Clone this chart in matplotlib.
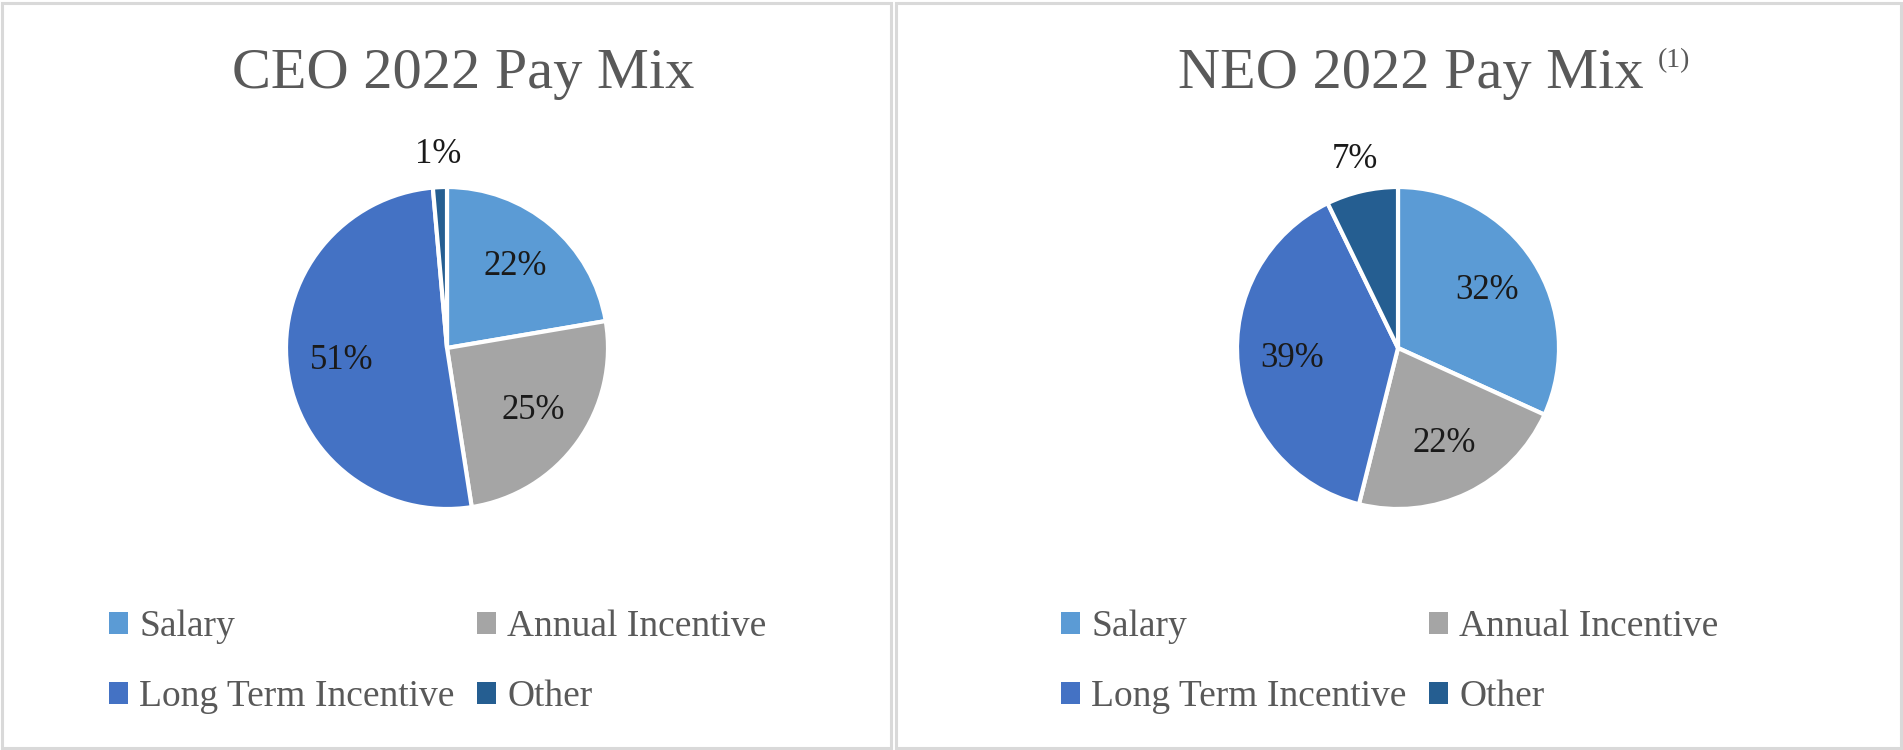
import matplotlib.pyplot as plt
import numpy as np
from matplotlib.patches import Rectangle, Patch

plt.rcParams['font.family'] = ['Liberation Serif', 'DejaVu Serif']

# data
categories = ['Salary', 'Annual Incentive', 'Long Term Incentive', 'Other']
ceo_mix = [22.3, 25.2, 51.0, 1.4]
neo_mix = [31.8, 22.1, 38.9, 7.2]
colors = ['#5B9BD5', '#A5A5A5', '#4472C4', '#255E91']
grey = '#595959'

W, H = 1903, 750
fig = plt.figure(figsize=(W / 100, H / 100), dpi=100)


def px(x, y, w, h):
    # pixel box (top-left origin) -> figure fraction
    return [x / W, 1 - (y + h) / H, w / W, h / H]


# panel frames
for x0, x1 in [(2, 891), (896, 1901)]:
    fig.patches.append(Rectangle((x0 / W, 2 / H), (x1 - x0) / W, (H - 5) / H,
                                 transform=fig.transFigure, fill=False,
                                 edgecolor='#d9d9d9', linewidth=2.2))


def draw_pie(cx, cy, r, values, outside):
    ax = fig.add_axes(px(cx - r, cy - r, 2 * r, 2 * r))
    wedges, _ = ax.pie(values, colors=colors, startangle=90, counterclock=False,
                       wedgeprops=dict(edgecolor='white', linewidth=3))
    ax.set_xlim(-1, 1)
    ax.set_ylim(-1, 1)
    ax.axis('off')
    total = sum(values)
    for i, (w, v) in enumerate(zip(wedges, values)):
        mid = np.deg2rad((w.theta1 + w.theta2) / 2)
        d = 1.2 if i in outside else 0.66
        ax.text(d * np.cos(mid), d * np.sin(mid), f'{v / total * 100:.0f}%',
                ha='center', va='center', fontsize=25, color='#1a1a1a')
    return ax


draw_pie(447, 348, 161, ceo_mix, outside=[3])
draw_pie(1398, 348, 161, neo_mix, outside=[3])

# titles
fig.text(463 / W, 1 - 88 / H, 'CEO 2022 Pay Mix', ha='center', va='baseline',
         fontsize=42, color=grey)
fig.text(1411 / W, 1 - 88 / H, 'NEO 2022 Pay Mix', ha='center', va='baseline',
         fontsize=42, color=grey)
fig.text(1658 / W, 1 - 48 / H, '(1)', ha='left', va='top', fontsize=20, color=grey)

# legends, filled row by row like the reference
handles = [Patch(facecolor=c, edgecolor='none') for c in colors]
order = [0, 2, 1, 3]
for cx in [438, 1390]:
    fig.legend([handles[i] for i in order], [categories[i] for i in order],
               ncol=2, loc='center',
               bbox_to_anchor=(cx / W, 1 - 662 / H), frameon=False,
               fontsize=27, labelcolor=grey, handlelength=0.5, handleheight=0.5,
               handletextpad=0.3, columnspacing=0.6, labelspacing=0.95)

fig.savefig('out.png', dpi=100)
